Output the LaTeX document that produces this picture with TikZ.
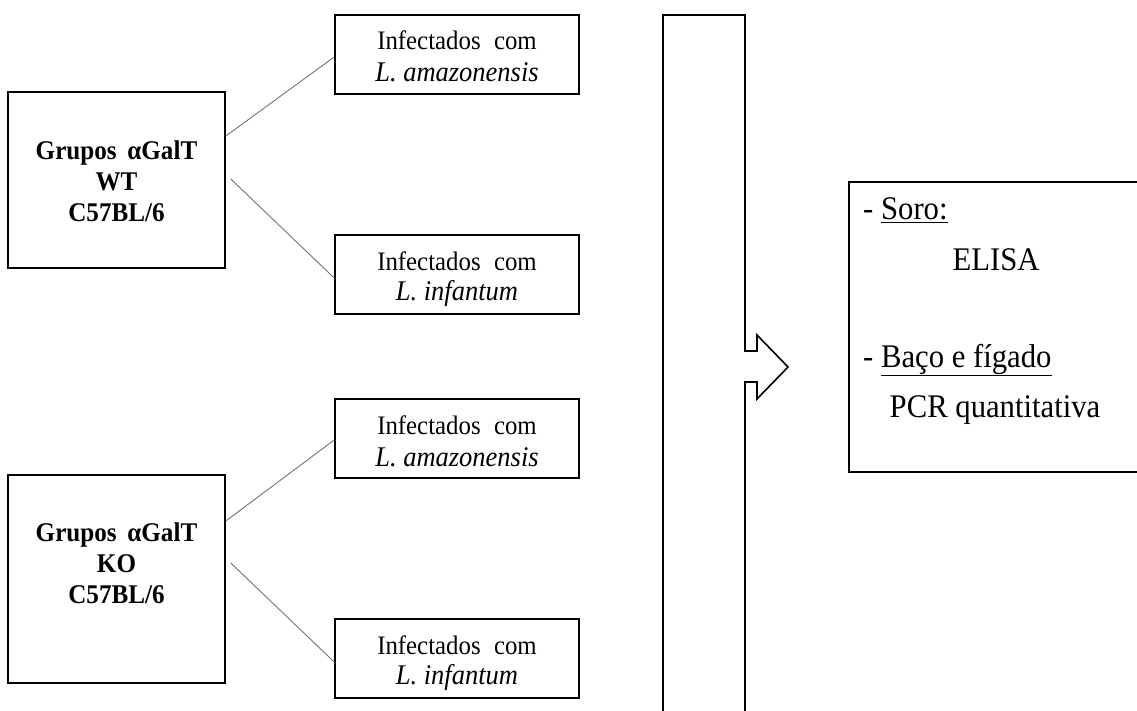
\documentclass[tikz,border=0pt]{standalone}
\usepackage{fontspec}
\setmainfont[FakeStretch=0.93]{Liberation Serif}
\tikzset{
  box/.style={draw=black, line width=1.6pt, rectangle, inner sep=0pt, fill=white},
  smallbox/.style={box, minimum width=244pt, minimum height=79pt},
  txt/.style={inner sep=0pt, font=\fontsize{26.7}{31}\selectfont},
  itxt/.style={inner sep=0pt, font=\fontsize{28.5}{31}\selectfont\itshape},
  btxt/.style={inner sep=0pt, align=center, font=\fontsize{27}{31}\selectfont\bfseries},
  rtxt/.style={inner sep=0pt, font=\fontsize{33}{36}\selectfont},
  conn/.style={draw=black!55, line width=0.9pt},
  bar/.style={draw=black, line width=1.6pt}
}
\begin{document}
\begin{tikzpicture}[x=1pt,y=-1pt]
\useasboundingbox (0,0) rectangle (1137,711);
\clip (0,0) rectangle (1137,711);
\fill[white] (0,0) rectangle (1137,711);

% left group boxes
\node[box, minimum width=217pt, minimum height=176pt] (wt) at (116.5,180) {};
\node[box, minimum width=217pt, minimum height=208pt] (ko) at (116.5,579) {};
\node[btxt] (wtt) at (116.5,181) {Grupos\hspace{0.4em}αGalT\\WT\\C57BL/6};
\node[btxt] (kot) at (116.5,563) {Grupos\hspace{0.4em}αGalT\\KO\\C57BL/6};

% infection boxes
\node[smallbox] (a1) at (457,54.5) {};
\node[smallbox] (a2) at (457,274.5) {};
\node[smallbox] (a3) at (457,438.5) {};
\node[smallbox] (a4) at (457,658.5) {};

\node[txt, anchor=base] (a1l1) at (457,50) {Infectados\hspace{0.5em}com};
\node[itxt, anchor=base] (a1l2) at (457,82) {L. amazonensis};
\node[txt, anchor=base] (a2l1) at (457,270) {Infectados\hspace{0.5em}com};
\node[itxt, anchor=base] (a2l2) at (457,300) {L. infantum};
\node[txt, anchor=base] (a3l1) at (457,434) {Infectados\hspace{0.5em}com};
\node[itxt, anchor=base] (a3l2) at (457,466) {L. amazonensis};
\node[txt, anchor=base] (a4l1) at (457,654) {Infectados\hspace{0.5em}com};
\node[itxt, anchor=base] (a4l2) at (457,684) {L. infantum};

% connectors
\draw[conn] ([yshift=44pt]wt.east) -- ([yshift=-2.5pt]a1.west);
\draw[conn] ([xshift=5pt,yshift=1pt]wt.east) -- ([yshift=-3.5pt]a2.west);
\draw[conn] ([yshift=58pt]ko.east) -- ([yshift=-1.5pt]a3.west);
\draw[conn] ([xshift=5pt,yshift=16pt]ko.east) -- ([yshift=-3.5pt]a4.west);

% tall bar with arrow
\draw[bar, line join=miter] (663,720) -- (663,15) -- (745,15) -- (745,351) -- (757,351) -- (757,335)
  -- (788,367) -- (757,399) -- (757,382) -- (745,382) -- (745,720);

% result box
\draw[box] (849,182) rectangle (1160,472);
\node[rtxt, anchor=base west] (r1) at (863,220) {- \underline{Soro:}};
\node[rtxt, anchor=base] (r2) at (996,270) {ELISA};
\node[rtxt, anchor=base west] (r3) at (863,367) {- \underline{Baço e fígado}};
\node[rtxt, anchor=base] (r4) at (995,417) {PCR quantitativa};
\end{tikzpicture}
\end{document}
